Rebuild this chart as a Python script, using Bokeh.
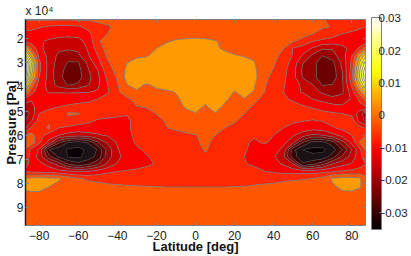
from bokeh.plotting import figure
from bokeh.embed import file_html
from bokeh.resources import INLINE
from bokeh.models import Range1d, LinearAxis, FixedTicker, ColorBar, LinearColorMapper
import numpy as np

lat = [-87,-84,-80,-75,-70,-65,-60,-55,-50,-45,-40,-35,-30,-25,-20,-15,-10,-5,0,5,10,15,20,25,30,35,40,45,50,55,60,65,70,75,80,84,87]
pressure = [1.2,1.5,1.8,2.1,2.4,2.7,3.0,3.3,3.6,3.9,4.2,4.5,4.8,5.1,5.4,5.7,6.0,6.3,6.6,6.9,7.2,7.5,7.8,8.1,8.4,9.0,9.75]

# field in units of 1e-3, one row per pressure
z_milli = [
[-4,-4,-4,-4,-4,-4,-4,-4,-3,-3,-3,-2,-2,-2,-2,-2,-2,-2,-2,-2,-2,-2,-2,-2,-2,-2,-2,-2,-3,-3,-3,-4,-6,-7,-8,-8,-8],
[-8,-8,-8.5,-9.5,-10,-10,-9.5,-8,-6.5,-5,-3.5,-3,-2,-2,-2,-2,-2,-2,-2,-2,-2,-2,-2,-2,-2,-2,-2,-2,-2.5,-3,-3.5,-4,-4.7,-6,-7,-8,-9],
[-10,-10,-11,-12,-12.5,-12.5,-12,-10,-7,-4.5,-3.5,-2.5,-2,-2,-2,-2,-2,-2,-2,-2,-2,-2,-2,-2,-2,-2,-2,-2,-2.5,-3.5,-4.5,-6,-7,-9,-10,-11,-11],
[-11,-11,-13,-14,-14.5,-15,-15,-12,-5,-3,-3,-2.5,-2,-1.5,-1,-0.5,0.5,1,1.5,1,0.3,-1,-1.5,-2,-2,-2,-2.5,-3,-4.2,-5.5,-8.8,-10,-11,-11.5,-12,-13,-12],
[5,-5,-12,-16,-17,-17.5,-17,-13,-7,-2.5,-2.5,-2,-1.5,-1,0,1.5,2,2,2,1,0.5,-0.5,-1,-1,-1.5,-2,-3,-4.5,-9.2,-11.5,-14,-17.5,-17.5,-15,-12,-8,-2],
[18,4,-10,-15,-19,-20,-19,-14,-9,-3.8,-2.5,-1.5,-0.5,-0.3,1,2,2.5,2.5,2.5,2,1.5,1,0.2,-0.2,-0.5,-2,-3.5,-5.5,-9.5,-14,-19,-22.5,-20,-15.5,-9,3,12],
[30,14,-8,-15,-20,-23,-23,-17,-10.5,-5,-2.5,0,1,1.5,2.5,3,3,3,3,3,3,2.5,2,1,0.2,-2.5,-4,-6.5,-11,-17.8,-21,-25,-24,-17,-8,10,20],
[31,12,-8,-15,-21,-24,-24,-18.5,-13.5,-6,-3.4,1,2,2.5,3,3,3.5,3.5,3.5,3.5,3,3,2.5,2,1,-3,-4.7,-7.5,-12,-19,-21,-25,-25,-18,-7,13,26],
[28,8,-9,-15,-21,-25,-24,-19.5,-14.5,-8,-4,1.5,1.5,2,3,3,3.5,3.5,3.5,3.5,3,3,2.5,2,1.5,-3.5,-5.5,-8,-12,-18.5,-21,-25,-25,-19,-6,14,28],
[14,-1,-11,-15,-20,-23,-22,-18.5,-14.5,-9,-4.8,0,0.5,-0.2,0.5,1,2,2.5,2.5,2.5,2,1.5,1,1,0.5,-4,-6,-8.5,-11.5,-14.5,-18,-23,-22.5,-19,-8,8,20],
[2,-7,-12,-13.8,-13.8,-14,-14,-13.8,-13,-9.5,-5,-3,-0.2,-0.5,-0.5,-0.3,0.1,1,1.5,1.5,1.5,1,-0.1,1,-0.2,-4.3,-7,-9,-12,-14,-15.5,-19,-20,-19,-11,-2,8],
[-10,-13,-13,-12,-11.5,-11,-10.5,-10,-9,-7.5,-6,-5,-3.5,-2,-1.5,-1,-0.3,0.5,1,0.5,1,0.3,-0.5,-0.1,-3.5,-5.5,-7.5,-8.5,-9.5,-11,-13.5,-15,-17,-16,-13,-8,-3],
[-16,-15,-11,-9.8,-9.2,-8.5,-8,-7.8,-7.5,-7,-6.5,-5.5,-4.5,-4.2,-3.5,-2.5,-1.5,0.5,0.8,-0.2,0.8,-0.3,-2,-3,-5,-6.5,-7,-7.5,-8,-8.8,-9.5,-11,-12,-13,-12,-10,-9],
[-20,-17,-9,-8,-7,-4,-4.2,-6,-7,-8,-8.5,-8.8,-7.5,-5.5,-4.4,-3.5,-2.5,-1,-0.1,-1,-0.1,-2,-3.5,-4.5,-6,-7,-7.5,-7.5,-7.5,-7.5,-7.5,-7.8,-8.5,-9,-10,-16,-20],
[-18,-14,-7,-5,-7,-5.5,-7,-8,-9.5,-9.5,-9.5,-9.5,-8,-6.5,-5.2,-4.3,-4,-3,-2.5,-2.5,-2.5,-3.8,-4.3,-5,-6,-7,-7.5,-8,-8.5,-8.8,-9.2,-8.8,-7.5,-7,-7,-15,-19],
[-14,-8,-6,-4,-9,-10,-10.5,-11,-11,-11,-10.5,-9.5,-8,-6.5,-5,-4.6,-4,-3.5,-3,-3.5,-4,-4.5,-5,-6,-7,-7.5,-8,-9,-10,-11,-11.5,-11,-9.5,-8,-7,-7,-9],
[-4,-3,-7,-11,-13.5,-15,-16,-15,-14,-13,-12,-10,-8,-7,-6.5,-6,-5.5,-5,-4.6,-4,-4.5,-5,-6,-7.5,-8.6,-8.5,-9,-10,-13,-16,-19,-18,-15,-12,-9,-6,-5],
[1,-2,-8,-15,-26,-32,-33,-31,-23,-17,-13,-10.5,-8.5,-7.5,-7,-6.5,-6,-5.5,-5,-3.8,-5.2,-6,-7,-8.5,-9.5,-8.7,-9.5,-12,-17,-27,-33,-33,-29,-20,-12,-4.2,-2],
[-5,-10,-14,-31.5,-34,-36.5,-37.5,-35,-31,-21,-14,-10.5,-9.5,-8.5,-8,-7.5,-7,-6.5,-5.5,-4.2,-5.5,-6.5,-7.5,-8.8,-9.5,-10,-11,-15,-30,-36.1,-37,-37,-34,-27,-18,-10,-4],
[-6,-11,-15,-25,-32,-36.5,-37,-34,-30,-20,-15,-11,-9.6,-9.2,-8.5,-8,-7.5,-7,-6.5,-5,-6,-7,-8,-9,-10,-11,-13,-17,-30,-34,-35,-34.5,-29,-22,-16,-11,-6],
[-8,-10,-12,-15,-20,-27,-30,-28,-23,-17,-13,-11,-10,-9.5,-8.8,-8,-7.5,-7,-7,-7,-7.5,-8,-8.3,-8.8,-9.5,-10.5,-12,-14,-18,-31,-28,-24,-18,-15,-13,-10.5,-9],
[-9.5,-10,-10.5,-11,-12,-13,-14,-13.5,-12,-10,-9.1,-8.7,-8.5,-8,-7,-6.5,-6,-6,-6,-6,-6.2,-6.4,-6.5,-7,-8,-8.9,-9.8,-10.5,-11,-11,-11,-10.5,-9.5,-8.5,-8,-7.5,-7],
[0,1,1.5,1,0.5,-2,-4,-5.2,-5.5,-5.8,-6,-6,-5.5,-5.5,-5.5,-5.5,-5.5,-5.5,-5.5,-5.5,-5.5,-5.5,-5.5,-5.5,-5.5,-5.5,-5.5,-5.2,-5,-4.8,-4.5,-3,0.5,1.5,1.5,0.8,-3],
[1,2,2,0.2,-1,-1.5,-2,-3,-3.5,-4,-4.2,-4.4,-4.5,-4.6,-4.7,-4.8,-4.8,-4.8,-4.8,-4.8,-4.8,-4.8,-4.7,-4.6,-4.4,-4.2,-4,-3.5,-3.2,-3,-2.8,-2,-0.5,1,1.5,0.5,-2],
[-0.5,-0.5,-0.5,-1,-1.5,-2,-2,-2,-2.5,-2.5,-3,-3,-3,-3,-3,-3,-3,-3,-3,-3,-3,-3,-3,-3,-3,-3,-3,-2.5,-2.5,-2,-2,-1.5,-1,-0.5,-0.5,-1,-1.5],
[-3,-3,-3,-3,-3,-3,-3,-3,-3,-3,-3,-3,-3,-3,-3,-3,-3,-3,-3,-3,-3,-3,-3,-3,-3,-3,-3,-3,-3,-3,-3,-3,-3,-3,-3,-3,-3],
[-3,-3,-3,-3,-3,-3,-3,-3,-3,-3,-3,-3,-3,-3,-3,-3,-3,-3,-3,-3,-3,-3,-3,-3,-3,-3,-3,-3,-3,-3,-3,-3,-3,-3,-3,-3,-3],
]
levels = [-0.0405,-0.036,-0.0315,-0.027,-0.0225,-0.018,-0.0135,-0.009,-0.0045,0,0.0045,0.009,0.0135,0.018,0.0225,0.027,0.0315]
x_ticks = [-80,-60,-40,-20,0,20,40,60,80]
y_ticks = [2,3,4,5,6,7,8,9]
cb_ticks = [-0.03,-0.02,-0.01,0,0.01,0.02,0.03]
x_label = "Latitude [deg]"
y_label = "Pressure [Pa]"
exponent = "x 10\u2074"
C_LOW, C_HIGH = -0.0352, 0.0302
GRAY = "#7f7f85"
FONT = "Liberation Sans"

def hot(v):
    t = (v - C_LOW) / (C_HIGH - C_LOW)
    t = min(max(t, 0), 1)
    r = min(t / 0.375, 1)
    g = min(max((t - 0.375) / 0.375, 0), 1)
    b = min(max((t - 0.75) / 0.25, 0), 1)
    return "#%02x%02x%02x" % (int(r * 255), int(g * 255), int(b * 255))

bands = [hot((a + b) / 2) for a, b in zip(levels[:-1], levels[1:])]
bands[0] = "#080004"
bands[1] = "#1c1216"
bands[9] = "#ff9a00"
palette = [hot(C_LOW + (C_HIGH - C_LOW) * (i + 0.5) / 64) for i in range(64)]
line_colors = ["#1c1c20", "#2c2c30", "#3c3c42", "#4a4a50", "#585860", "#646470"] + ["#72727a"] * 11

p = figure(width=411, height=256, output_backend="svg", toolbar_location=None,
           x_range=Range1d(-87, 87), y_range=Range1d(9.75, 1.2),
           min_border_left=25, min_border_right=46, min_border_top=0, min_border_bottom=27,
           title=exponent)
p.styles = {"position": "absolute", "left": "0px", "top": "0px"}
p.title.text_font = FONT
p.title.text_font_size = "12px"
p.title.text_font_style = "normal"
p.title.text_color = "#222222"
p.title.offset = 0
p.title.standoff = 3
p.grid.visible = False
p.outline_line_color = GRAY
p.background_fill_color = "white"

p.contour(lat, pressure, np.array(z_milli) * 1e-3, levels,
          fill_color=bands, line_color=line_colors, line_width=0.8)
p.segment(x0=[87] * len(y_ticks), y0=y_ticks, x1=[85.6] * len(y_ticks), y1=y_ticks, line_color=GRAY, line_width=1)

def minus(t):
    return ("%g" % t).replace("-", "\u2212")

for ax, ticks in ((p.xaxis[0], x_ticks), (p.yaxis[0], y_ticks)):
    ax.ticker = FixedTicker(ticks=ticks)
    ax.major_label_overrides = {t: minus(t) for t in ticks}
    ax.major_tick_in = 3
    ax.major_tick_out = 0
    ax.minor_tick_line_color = None
    ax.major_tick_line_color = GRAY
    ax.major_label_text_font = FONT
    ax.major_label_text_font_size = "12px"
    ax.major_label_text_color = "#222222"
    ax.axis_label_text_font = FONT
    ax.axis_label_text_font_style = "bold"
    ax.axis_label_text_font_size = "13px"
    ax.axis_label_text_color = "#111111"
    ax.major_label_standoff = 2
p.xaxis[0].axis_label = x_label
p.yaxis[0].axis_label = y_label
p.xaxis[0].major_label_standoff = 5
p.xaxis[0].axis_label_standoff = -4
p.yaxis[0].axis_label_standoff = -5
p.xaxis[0].axis_line_color = GRAY
p.yaxis[0].axis_line_color = "#202020"
p.yaxis[0].axis_line_width = 1.5

top = LinearAxis(ticker=FixedTicker(ticks=x_ticks),
                 major_label_overrides={t: "" for t in x_ticks},
                 major_tick_in=3, major_tick_out=0, minor_tick_line_color=None,
                 major_tick_line_color=GRAY, axis_line_color=GRAY, major_label_standoff=0)
p.add_layout(top, "above")

mapper = LinearColorMapper(palette=palette, low=C_LOW, high=C_HIGH)
cb = ColorBar(color_mapper=mapper, ticker=FixedTicker(ticks=cb_ticks),
              major_label_overrides={t: minus(t) for t in cb_ticks},
              width=10, height=212, padding=0, margin=0, location=(346, -4), bar_line_color=GRAY, bar_line_width=1,
              major_tick_line_color=GRAY, major_tick_in=2, minor_tick_line_color=None,
              major_label_text_font=FONT, major_label_text_font_size="11.5px",
              major_label_text_color="#222222", label_standoff=-3,
              border_line_color=None, background_fill_color=None)
p.add_layout(cb)

open("out.html", "w").write(file_html(p, INLINE))
